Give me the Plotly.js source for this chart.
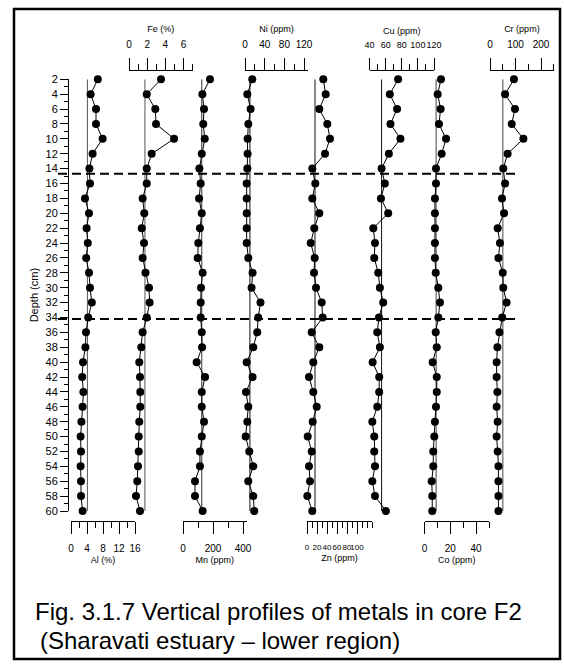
<!DOCTYPE html>
<html>
<head>
<meta charset="utf-8">
<script src="https://cdn.plot.ly/plotly-3.0.1.min.js"></script>
<style>
  html, body { margin: 0; padding: 0; background: #fff; }
  #chart { width: 564px; height: 668px; }
</style>
</head>
<body>
<div id="chart"></div>
<script>
// Core F2 – depth profiles of metals (depth in cm)
const depth = [2, 4, 6, 8, 10, 12, 14, 16, 18, 20, 22, 24, 26, 28, 30,
               32, 34, 36, 38, 40, 42, 44, 46, 48, 50, 52, 54, 56, 58, 60];

const al = [6.7, 4.9, 6.25, 6.25, 7.9, 5.4, 4.6, 4.75, 3.5, 4.5, 3.9, 4.2, 3.8, 4.5, 4.75,
            5.2, 4.3, 3.75, 3.6, 3.0, 2.8, 3.1, 2.9, 2.6, 2.4, 2.5, 2.4, 2.5, 2.5, 2.9];
const fe = [3.52, 1.95, 2.89, 2.97, 4.95, 2.49, 1.95, 1.95, 1.5, 1.68, 1.4, 1.65, 1.5, 1.81, 2.2,
            2.27, 1.95, 1.5, 1.35, 1.13, 1.21, 1.24, 1.24, 1.13, 1.07, 1.07, 0.99, 0.91, 0.77, 1.21];
const mn = [180, 129, 140, 135, 145, 125, 109, 118, 107, 125, 113, 102, 98, 131, 120,
            118, 118, 125, 127, 91, 147, 125, 125, 140, 125, 113, 113, 80, 80, 131];
const ni = [14.8, 4.7, 11.4, 6.7, 5.3, 5.3, 4.7, 3.4, 3.4, 3.4, 3.4, 3.4, 6.7, 15.4, 13.4,
            31.5, 26.8, 24.8, 16.8, 3.4, 15.4, 2, 6.7, 4.7, 1.3, 8.7, 16.8, 6.7, 16.8, 18.8];
const zn = [32.6, 37.4, 24.6, 40.6, 46, 36, 10.6, 16.6, 10.6, 24.6, 14.6, 7.4, 15.4, 14, 18,
            29.4, 31.4, 9.4, 24.6, 12.6, 4, 12.6, 19.4, 11.4, 1.4, 9.4, 4, 6, 0.6, 10.6];
const cu = [75.5, 65.2, 74.2, 66, 78.4, 64, 55, 59, 54.2, 63.2, 44.7, 46.8, 45.9, 50.8, 52.9,
            57, 51.7, 49.6, 52.9, 43.9, 52, 52, 49.6, 43.5, 45.9, 45.9, 46.8, 43.5, 46.8, 60.3];
const co = [12.8, 10.2, 12.5, 11.2, 16.7, 13.3, 8.9, 8.9, 8.1, 8.1, 8.1, 8.1, 8.1, 8.7, 10.7,
            12, 10.7, 8.7, 9.5, 6.3, 9.5, 9.5, 8.9, 8.1, 7.6, 6.8, 6.8, 5.6, 6, 6];
const cr = [94, 59, 98, 85, 131, 69, 52, 59, 47, 55, 30, 39, 33, 50, 52,
            65, 48, 37, 29, 26, 26, 29, 26, 30, 26, 30, 33, 33, 33, 33];

// metal names, units and the reference (background) level drawn as a vertical line
const metals = ['Al', 'Fe', 'Mn', 'Ni', 'Zn', 'Cu', 'Co', 'Cr'];
const units = ['%', '%', 'ppm', 'ppm', 'ppm', 'ppm', 'ppm', 'ppm'];
const refValues = [4.1, 1.75, 125, 10, 16, 55, 9, 50];
const series = [al, fe, mn, ni, zn, cu, co, cr];

// depth boundaries separating the zones of the core
const zoneBounds = [14.7, 34.2];

const captionLines = ['Fig. 3.1.7 Vertical profiles of metals in core F2',
                      '(Sharavati estuary \u2013 lower region)'];

// ---- layout geometry (pixels) ----
const W = 564, H = 668;
const M = {l: 68, r: 4, t: 70, b: 147};
const pw = W - M.l - M.r, ph = H - M.t - M.b;
const fx = p => (p - M.l) / pw;
const fy = p => (H - M.b - p) / ph;

const panels = [
  {x0: 71,    x1: 135,    range: [0, 16],  dtick: 4,   minor: 2,   side: 'bottom', refColor: '#555'},
  {x0: 129,   x1: 192.7,  range: [0, 7],   dtick: 2,   minor: 1,   side: 'top',    refColor: '#555'},
  {x0: 183,   x1: 246.75, range: [0, 425], dtick: 200, minor: 100, side: 'bottom', refColor: '#333'},
  {x0: 245,   x1: 308,    range: [0, 128], dtick: 40,  minor: 20,  side: 'top',    refColor: '#111'},
  {x0: 307,   x1: 372,    range: [0, 130], dtick: 20,  minor: 10,  side: 'bottom', refColor: '#111',
   maxLabel: 100, labelSize: 8},
  {x0: 369.5, x1: 434,    range: [40, 120], dtick: 20, minor: 10,  side: 'top',    refColor: '#111',
   labelSize: 9},
  {x0: 424.5, x1: 489,    range: [0, 50],  dtick: 20,  minor: 10,  side: 'bottom', refColor: '#444'},
  {x0: 490,   x1: 553.75, range: [0, 250], dtick: 100, minor: 50,  side: 'top',    refColor: '#888',
   refWidth: 1.6}
];

const narrow = 'Liberation Sans Narrow, Arial Narrow, Liberation Sans, Arial, sans-serif';
const regular = 'Liberation Sans, Arial, sans-serif';

const traces = [];
const layout = {
  width: W, height: H,
  margin: M,
  paper_bgcolor: '#fff', plot_bgcolor: 'rgba(0,0,0,0)',
  showlegend: false,
  yaxis: {
    domain: [fy(511), fy(79.3)],
    range: [60, 2],
    anchor: 'free', position: 0, side: 'left',
    showline: true, linecolor: '#000', linewidth: 1.3,
    showgrid: false, zeroline: false,
    ticks: 'outside', ticklen: 8, tickwidth: 1, tickcolor: '#000',
    tickmode: 'linear', tick0: 0, dtick: 2,
    minor: {ticks: 'outside', ticklen: 4, tickwidth: 1, tickcolor: '#000', dtick: 1, showgrid: false},
    tickfont: {family: regular, size: 11, color: '#000'},
    title: {text: 'Depth (cm)', font: {family: regular, size: 11, color: '#000'}, standoff: 3},
    fixedrange: true
  },
  shapes: [],
  annotations: []
};

panels.forEach((p, i) => {
  const ax = i === 0 ? 'x' : 'x' + (i + 1);
  const key = i === 0 ? 'xaxis' : 'xaxis' + (i + 1);
  const axis = {
    domain: [fx(p.x0), fx(p.x1)],
    range: p.range,
    anchor: 'free', position: p.side === 'top' ? 1 : 0, side: p.side,
    showline: true, linecolor: '#000', linewidth: 1.3,
    showgrid: false, zeroline: false,
    ticks: 'outside', ticklen: 12, tickwidth: 1, tickcolor: '#000',
    tickmode: 'linear', tick0: 0, dtick: p.dtick,
    minor: {ticks: 'outside', ticklen: 6, tickwidth: 1, tickcolor: '#000',
            tickmode: 'linear', tick0: 0, dtick: p.minor, showgrid: false},
    tickangle: 0, ticklabelstandoff: 6,
    tickfont: {family: narrow, size: p.labelSize || 10, color: '#000'},
    title: {text: metals[i] + ' (' + units[i] + ')',
            font: {family: narrow, size: 9, color: '#000'}, standoff: 3},
    fixedrange: true
  };
  if (p.maxLabel !== undefined) {
    const vals = [];
    for (let v = p.range[0]; v <= p.maxLabel; v += p.dtick) vals.push(v);
    axis.tickmode = 'array';
    axis.tickvals = vals;
  }
  layout[key] = axis;

  // reference level
  traces.push({
    x: [refValues[i], refValues[i]],
    y: [depth[0], depth[depth.length - 1]],
    xaxis: ax, yaxis: 'y',
    mode: 'lines', line: {color: p.refColor, width: p.refWidth || 1},
    hoverinfo: 'skip', cliponaxis: false
  });
  // profile
  traces.push({
    x: series[i], y: depth,
    xaxis: ax, yaxis: 'y',
    mode: 'lines+markers',
    line: {color: '#000', width: 1},
    marker: {color: '#000', size: 8, symbol: 'circle'},
    cliponaxis: false,
    name: metals[i]
  });
});

zoneBounds.forEach(b => {
  layout.shapes.push({
    type: 'line', xref: 'paper', yref: 'y',
    x0: fx(58), x1: fx(518), y0: b, y1: b,
    line: {color: '#000', width: 2, dash: '9px,5px'},
    layer: 'above'
  });
});

// frame round the whole figure
layout.shapes.push({
  type: 'rect', xref: 'paper', yref: 'paper',
  x0: fx(14), x1: fx(560), y0: fy(659), y1: fy(9),
  line: {color: '#000', width: 2.5}, fillcolor: 'rgba(0,0,0,0)', layer: 'above'
});

layout.annotations.push({
  xref: 'paper', yref: 'paper', x: fx(33), y: fy(611),
  xanchor: 'left', yanchor: 'middle', showarrow: false,
  text: captionLines[0], font: {family: regular, size: 24, color: '#000'}
});
layout.annotations.push({
  xref: 'paper', yref: 'paper', x: fx(38), y: fy(640),
  xanchor: 'left', yanchor: 'middle', showarrow: false,
  text: captionLines[1], font: {family: regular, size: 24, color: '#000'}
});

Plotly.newPlot('chart', traces, layout, {staticPlot: true, displayModeBar: false});
</script>
</body>
</html>
